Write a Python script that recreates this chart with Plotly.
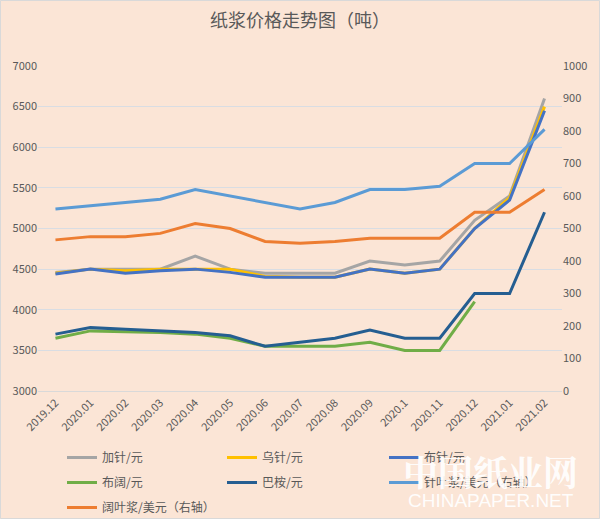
import plotly.graph_objects as go

months = ["2019.12", "2020.01", "2020.02", "2020.03", "2020.04", "2020.05", "2020.06",
          "2020.07", "2020.08", "2020.09", "2020.1", "2020.11", "2020.12", "2021.01", "2021.02"]

jia_zhen = [4460, 4500, 4500, 4500, 4660, 4500, 4450, 4450, 4450, 4600, 4550, 4600, 5100, 5400, 6600]
wu_zhen = [4450, 4500, 4480, 4500, 4500, 4500, 4410, 4400, 4400, 4500, 4450, 4500, 5000, 5380, 6500]
bu_zhen = [4440, 4500, 4450, 4480, 4500, 4460, 4400, 4400, 4400, 4500, 4450, 4500, 5000, 5350, 6450]
bu_kuo = [3650, 3740, 3730, 3720, 3700, 3650, 3550, 3550, 3550, 3600, 3500, 3500, 4100, None, None]
ba_an = [3700, 3780, 3760, 3740, 3720, 3680, 3550, 3600, 3650, 3750, 3650, 3650, 4200, 4200, 5200]
zhenye_usd = [560, 570, 580, 590, 620, 600, 580, 560, 580, 620, 620, 630, 700, 700, 805]
kuoye_usd = [465, 475, 475, 485, 515, 500, 460, 455, 460, 470, 470, 470, 550, 550, 620]

# (name, values, colour, axis, legend column)
series = [
    ("加针/元", jia_zhen, "#A5A5A5", "y", "legend"),
    ("乌针/元", wu_zhen, "#FFC000", "y", "legend2"),
    ("布针/元", bu_zhen, "#4472C4", "y", "legend3"),
    ("布阔/元", bu_kuo, "#70AD47", "y", "legend"),
    ("巴桉/元", ba_an, "#255E91", "y", "legend2"),
    ("针叶浆/美元（右轴）", zhenye_usd, "#5B9BD5", "y2", "legend3"),
    ("阔叶浆/美元（右轴）", kuoye_usd, "#ED7D31", "y2", "legend"),
]

W, H = 600, 519
L, R, T, B = 38, 38, 66, 128
pw, ph = W - L - R, H - T - B

FONT = "Noto Sans CJK SC"
GRAY = "#595959"
BG = "#FBE5D6"


def px_x(p):
    return (p - L) / pw


def px_y(p):
    return (H - B - p) / ph


fig = go.Figure()
for i, (name, vals, color, ax, lg) in enumerate(series):
    fig.add_trace(go.Scatter(
        x=months, y=vals, name=name, mode="lines", yaxis=ax, legend=lg,
        legendgroup="g%d" % i,
        line=dict(color=color, width=3), connectgaps=False,
    ))

legend_common = dict(orientation="v", yanchor="top", xanchor="left", bgcolor="rgba(0,0,0,0)",
                     font=dict(size=12, color=GRAY, family=FONT), tracegroupgap=6, itemwidth=30)

fig.update_layout(
    width=W, height=H,
    paper_bgcolor=BG, plot_bgcolor=BG,
    margin=dict(l=L, r=R, t=T, b=B, autoexpand=False),
    font=dict(family=FONT, color=GRAY, size=11),
    title=dict(text="纸浆价格走势图（吨）", x=0.5, xanchor="center", y=1 - 21 / H, yanchor="middle",
               font=dict(size=18, color=GRAY, family=FONT)),
    xaxis=dict(type="category", tickangle=-45, showgrid=False, ticks="", automargin=False,
               showline=True, linecolor="#D9D9D9", linewidth=1,
               tickfont=dict(size=11, color=GRAY), range=[-0.5, 14.5]),
    yaxis=dict(range=[3000, 7000], dtick=500, showgrid=True, gridcolor="#D9DDE3", gridwidth=1,
               zeroline=False, ticks="", automargin=False, tickfont=dict(size=11, color=GRAY)),
    yaxis2=dict(range=[0, 1000], dtick=100, overlaying="y", side="right", showgrid=False,
                zeroline=False, ticks="", automargin=False, tickfont=dict(size=11, color=GRAY)),
    showlegend=True,
    legend=dict(x=px_x(62), y=px_y(443), **legend_common),
    legend2=dict(x=px_x(222), y=px_y(443), **legend_common),
    legend3=dict(x=px_x(384), y=px_y(443), **legend_common),
    shapes=[dict(type="rect", xref="paper", yref="paper",
                 x0=px_x(0.5), x1=px_x(599.5), y0=px_y(518.5), y1=px_y(0.5),
                 line=dict(color="#D9D9D9", width=1), layer="below")],
    annotations=[
        dict(text="<b>中国纸业网</b>", xref="paper", yref="paper", x=px_x(490), y=px_y(471),
             xanchor="center", yanchor="middle", showarrow=False,
             font=dict(size=35, color="rgba(255,255,255,0.92)", family="Noto Serif CJK SC, " + FONT)),
        dict(text="CHINAPAPER.NET", xref="paper", yref="paper", x=px_x(491), y=px_y(500),
             xanchor="center", yanchor="middle", showarrow=False,
             font=dict(size=19, color="rgba(255,255,255,0.95)", family="Liberation Sans")),
    ],
)

fig.write_html("out.html",
               config={"displayModeBar": False},
               post_script="document.body.style.margin='0';document.body.style.padding='0';"
                           "document.body.style.overflow='hidden';")
